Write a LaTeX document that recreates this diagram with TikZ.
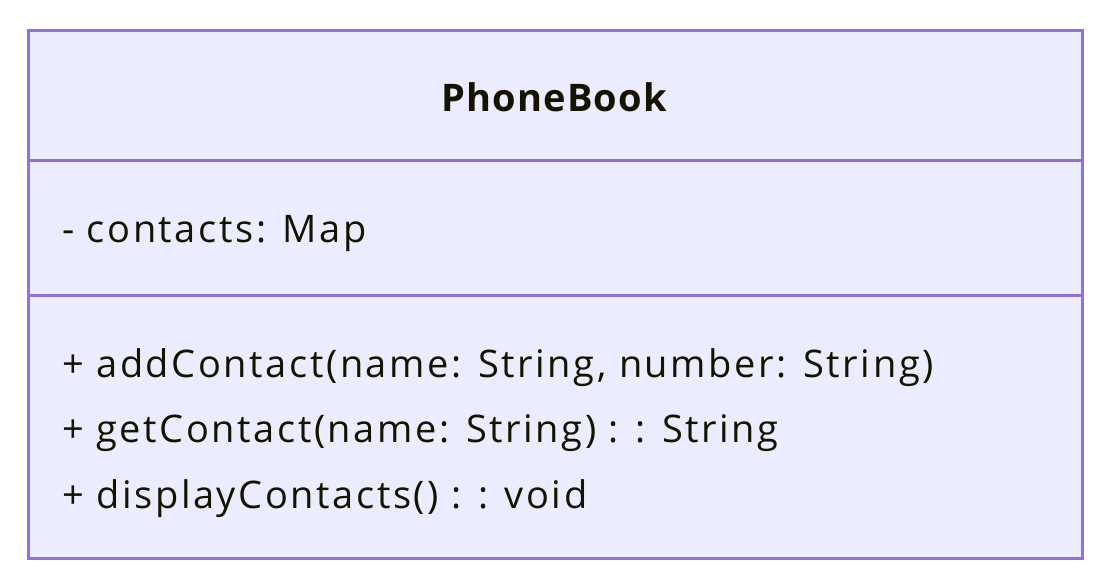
\documentclass[tikz,border=0pt]{standalone}
\usepackage{fontspec}
\setmainfont{Open Sans}
\newfontfamily\memberfont[LetterSpace=6.8]{Open Sans}
\newfontfamily\titlefont[LetterSpace=3.3]{Open Sans}
\definecolor{boxfill}{HTML}{ECECFF}
\definecolor{boxline}{HTML}{9370DB}
\definecolor{txt}{HTML}{131300}
\begin{document}
\begin{tikzpicture}[x=1pt,y=-1pt,
  member/.style={anchor=base west,inner sep=0pt,text=txt,font=\memberfont\fontsize{38}{40}\selectfont},
  title/.style={anchor=base,inner sep=0pt,text=txt,font=\titlefont\fontsize{38}{40}\selectfont\bfseries},
  divider/.style={draw=boxline,line width=3pt}]
\useasboundingbox[fill=white] (0,0) rectangle (1105,577);
\node[draw=boxline,fill=boxfill,line width=3pt,minimum width=1054pt,minimum height=528pt,inner sep=0pt,anchor=north west] (box) at (27,29) {};
\coordinate (d1l) at (27,161); \coordinate (d1r) at (1081,161);
\coordinate (d2l) at (27,295); \coordinate (d2r) at (1081,295);
\draw[divider] (d1l) -- (d1r);
\draw[divider] (d2l) -- (d2r);
\node[title] (name) at (554,112) {PhoneBook};
\node[member] (a1) at (62,243) {- contacts: Map};
\node[member] (m1) at (62,377) {+ addContact(name: String, number: String)};
\node[member] (m2) at (62,442) {+ getContact(name: String) : : String};
\node[member] (m3) at (62,508) {+ displayContacts() : : void};
\end{tikzpicture}
\end{document}
